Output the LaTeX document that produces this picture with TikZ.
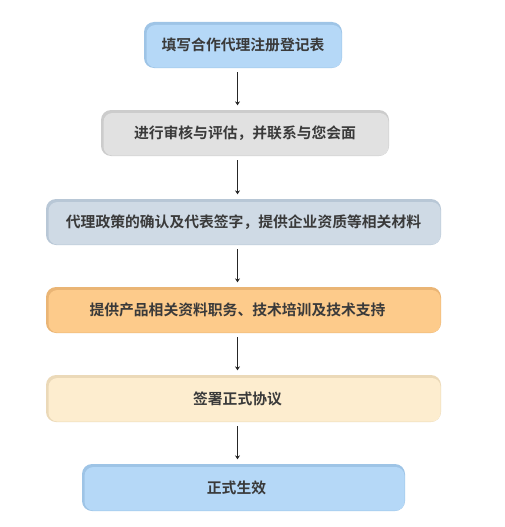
\documentclass[tikz,border=0pt]{standalone}
\usepackage{fontspec}
\newfontfamily\cjk{Noto Sans CJK SC}[BoldFont={Noto Sans CJK SC Bold}]
\usetikzlibrary{arrows.meta,calc}
\definecolor{txt}{HTML}{3A3A3A}
\definecolor{blueA}{HTML}{B5D8F7}\definecolor{blueB}{HTML}{9EC4E6}
\definecolor{grayA}{HTML}{E1E1E1}\definecolor{grayB}{HTML}{CCCCCC}
\definecolor{slateA}{HTML}{CFDAE5}\definecolor{slateB}{HTML}{B8C7D6}
\definecolor{orangeA}{HTML}{FDCB8B}\definecolor{orangeB}{HTML}{EAB575}
\definecolor{creamA}{HTML}{FDEDCF}\definecolor{creamB}{HTML}{EBD9B8}
\tikzset{
  stepbox/.style 2 args={rounded corners=10pt, fill=#2, minimum height=46pt,
    inner sep=0pt, font=\cjk\bfseries\fontsize{14.8pt}{16pt}\selectfont, text=txt,
    path picture={\fill[#1, rounded corners=9pt]
      ([shift={(2.5pt,-3pt)}]path picture bounding box.north west) rectangle
      ([shift={(-0.4pt,0.4pt)}]path picture bounding box.south east);}},
  arr/.style={draw=black!85, line width=0.9pt, -{Stealth[length=4pt,width=5pt]}}
}
\begin{document}
\begin{tikzpicture}[x=1pt,y=1pt]
\useasboundingbox (0,0) rectangle (505,-527);
\node[stepbox={blueA}{blueB}, minimum width=198pt] (b1) at (243,-45) {填写合作代理注册登记表};
\node[stepbox={grayA}{grayB}, minimum width=288pt] (b2) at (245,-133) {进行审核与评估，并联系与您会面};
\node[stepbox={slateA}{slateB}, minimum width=395pt] (b3) at (243.5,-222) {代理政策的确认及代表签字，提供企业资质等相关材料};
\node[stepbox={orangeA}{orangeB}, minimum width=395pt] (b4) at (243.5,-310) {提供产品相关资料职务、技术培训及技术支持\hspace*{12pt}};
\node[stepbox={creamA}{creamB}, minimum width=395pt, minimum height=47pt] (b5) at (243.5,-398.5) {签署正式协议\hspace*{12pt}};
\node[stepbox={blueA}{blueB}, minimum width=323pt, minimum height=47pt] (b6) at (243.5,-487.5) {正式生效\hspace*{14pt}};
\coordinate (ax) at (237.5,0);
\foreach \a/\b in {b1/b2,b2/b3,b3/b4,b4/b5,b5/b6}{
  \draw[arr] ($(\a.south -| ax)+(0,-4)$) -- ($(\b.north -| ax)+(0,4.5)$);
}
\end{tikzpicture}
\end{document}
